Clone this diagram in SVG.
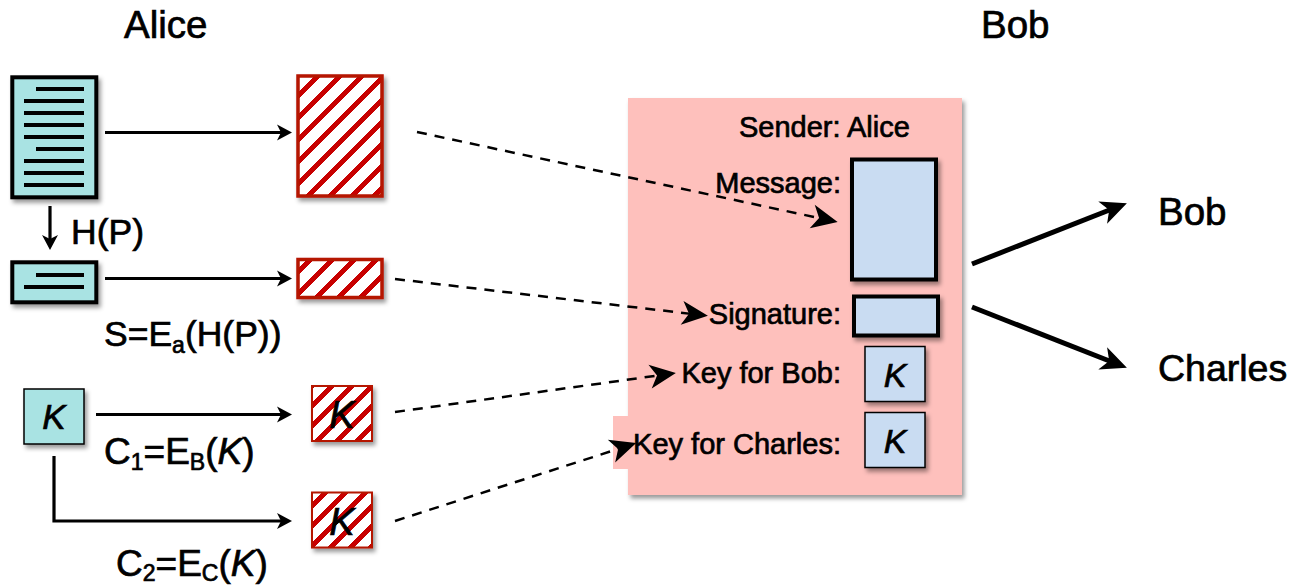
<svg xmlns="http://www.w3.org/2000/svg" width="1291" height="586" viewBox="0 0 1291 586">
<defs>
<filter id="sh" x="-20%" y="-20%" width="150%" height="150%"><feDropShadow dx="2.500" dy="3.500" stdDeviation="2" flood-color="#000" flood-opacity="0.4"/></filter>
<pattern id="hatch" width="22" height="22" patternUnits="userSpaceOnUse" patternTransform="translate(297 75)">
<rect width="22" height="22" fill="#fff"/>
<path d="M-6 6L6 -6M-6 28L28 -6M16 28L28 16" stroke="#c80000" stroke-width="5.500" fill="none" shape-rendering="crispEdges"/>
</pattern>
<pattern id="hatchS" width="20" height="20" patternUnits="userSpaceOnUse" patternTransform="translate(312 386)">
<rect width="20" height="20" fill="#fff"/>
<path d="M-5 5L5 -5M-5 25L25 -5M15 25L25 15" stroke="#c80000" stroke-width="5" fill="none" shape-rendering="crispEdges"/>
</pattern>
<marker id="ah" markerUnits="userSpaceOnUse" markerWidth="18" markerHeight="18" refX="10" refY="8" orient="auto" overflow="visible"><path d="M0 0L15 8L0 16L4 8Z" fill="#000"/></marker>
<marker id="ahd" markerUnits="userSpaceOnUse" markerWidth="30" markerHeight="30" refX="10" refY="12" orient="auto" overflow="visible"><path d="M0 0L26 12L0 24L7 12Z" fill="#000"/></marker>
</defs>
<style>
text{font-family:"Liberation Sans",Arial,sans-serif;fill:#000;stroke:#000;stroke-width:.7px}
.t{font-size:38.500px}
.l{font-size:29px}
.m{font-size:35.500px}
.n{font-size:37px}
.s{font-size:23px}
.i{font-style:italic}
.doc{fill:#a9e3e3;stroke:#000;stroke-width:4;filter:url(#sh)}
.red{stroke:#b51400;stroke-width:3.500;filter:url(#sh)}
.blue{fill:#c9dcf2;stroke:#000;stroke-width:4;filter:url(#sh)}
.key{fill:#c9dcf2;stroke:#000;stroke-width:1.500;filter:url(#sh)}
.tl{stroke:#000;stroke-width:4;fill:none}
.c{stroke:#000;stroke-width:3.200;fill:none}
.d{stroke:#000;stroke-width:2.500;fill:none;stroke-dasharray:10 8}
.b{stroke:#000;stroke-width:5;fill:none}
</style>

<g id="title-alice"><text class="t" x="124" y="38">Alice</text></g>
<g id="title-bob"><text class="t" x="981" y="38">Bob</text></g>

<g id="bob-panel">
<rect x="628" y="98" width="334" height="397" fill="#fec0bc" filter="url(#sh)"/>
<rect x="613" y="416" width="20" height="53" fill="#fec0bc"/>
<text class="l" x="739" y="137">Sender: Alice</text>
</g>

<g id="plaintext">
<rect class="doc" x="12.300" y="77.300" width="84" height="120"/>
<path class="tl" d="M36 89H84M24 101H84M24 113H84M24 125H84M24 137H84M36 149H84M24 161H84M24 173H84M24 185H84"/>
</g>
<g id="ciphertext"><rect class="red" x="298" y="76" width="84" height="120" fill="url(#hatch)"/></g>
<g id="hash">
<rect class="doc" x="12.300" y="262.300" width="84" height="40"/>
<path class="tl" d="M36 275H84M24 287H84"/>
</g>
<g id="signature"><rect class="red" x="298" y="259.500" width="84" height="38" fill="url(#hatch)"/></g>
<g id="h-label"><text class="m" x="71" y="244">H(P)</text></g>
<g id="s-label"><text class="m" x="104" y="346">S=E<tspan class="s" dy="7">a</tspan><tspan dy="-7">(H(P))</tspan></text></g>

<g id="key">
<rect x="24" y="389" width="60" height="55" fill="#a9e3e3" stroke="#000" stroke-width="1.500" filter="url(#sh)"/>
<text class="i" x="54" y="429" text-anchor="middle" style="font-size:35px">K</text>
</g>
<g id="enc-key-bob">
<rect class="red" x="312" y="386" width="60" height="55" fill="url(#hatchS)" style="stroke-width:2"/>
<text class="i" x="342" y="428" text-anchor="middle" style="font-size:38px">K</text>
</g>
<g id="enc-key-charles">
<rect class="red" x="312" y="492.500" width="60" height="55" fill="url(#hatchS)" style="stroke-width:2"/>
<text class="i" x="342" y="535" text-anchor="middle" style="font-size:38px">K</text>
</g>
<g id="c1-label"><text class="n" x="104" y="464">C<tspan class="s" dy="6">1</tspan><tspan dy="-6">=E</tspan><tspan class="s" dy="6">B</tspan><tspan dy="-6">(</tspan><tspan class="i">K</tspan>)</text></g>
<g id="c2-label"><text class="n" x="116" y="576">C<tspan class="s" dy="5">2</tspan><tspan dy="-5">=E</tspan><tspan class="s" dy="5">C</tspan><tspan dy="-5">(</tspan><tspan class="i">K</tspan>)</text></g>

<g id="msg-field">
<rect class="blue" x="852" y="159.500" width="84" height="120"/>
<text class="l" x="841" y="193" text-anchor="end">Message:</text>
</g>
<g id="sig-field">
<rect class="blue" x="854" y="296.500" width="84" height="39"/>
<text class="l" x="841" y="324" text-anchor="end">Signature:</text>
</g>
<g id="key-bob-field">
<rect class="key" x="865" y="346.500" width="60" height="55"/>
<text class="i" x="895" y="387" text-anchor="middle" style="font-size:34px">K</text>
<text class="l" x="841" y="383" text-anchor="end">Key for Bob:</text>
</g>
<g id="key-charles-field">
<rect class="key" x="865" y="412.500" width="60" height="55"/>
<text class="i" x="895" y="453" text-anchor="middle" style="font-size:34px">K</text>
<text class="l" x="841" y="454" text-anchor="end">Key for Charles:</text>
</g>

<g id="recipient-bob"><text class="t" x="1158" y="225">Bob</text></g>
<g id="recipient-charles"><text class="t" x="1158" y="381" style="font-size:37.500px">Charles</text></g>

<g id="connectors">
<path class="c" d="M105 132.500H287" marker-end="url(#ah)"/>
<path class="c" d="M50 206V245" marker-end="url(#ah)"/>
<path class="c" d="M105 278.500H287" marker-end="url(#ah)"/>
<path class="c" d="M96 414.500H287" marker-end="url(#ah)"/>
<path class="c" d="M54 456V521H287" marker-end="url(#ah)"/>
<path class="d" d="M417 132L822 218.700" marker-end="url(#ahd)"/>
<path class="d" d="M395 279L692 314" marker-end="url(#ahd)"/>
<path class="d" d="M395 412L660 375.200" marker-end="url(#ahd)"/>
<path class="d" d="M395 521L621 448" marker-end="url(#ahd)"/>
<path class="b" d="M972 264L1112 209" marker-end="url(#ahd)"/>
<path class="b" d="M972 307L1112 362" marker-end="url(#ahd)"/>
</g>
</svg>
